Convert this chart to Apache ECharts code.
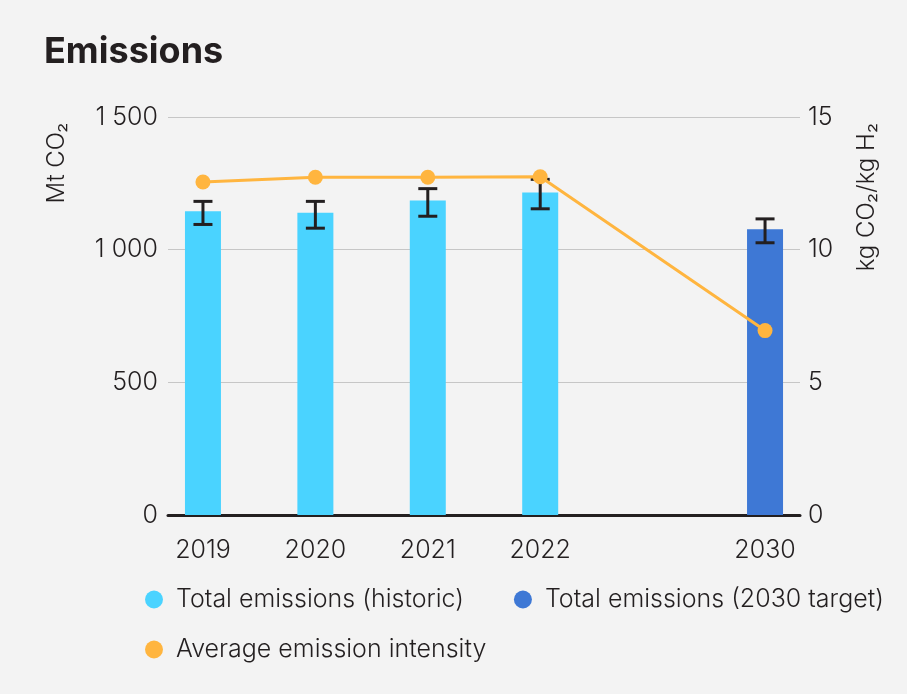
<!DOCTYPE html>
<html>
<head>
<meta charset="utf-8">
<script src="https://cdn.jsdelivr.net/npm/echarts@6/dist/echarts.min.js"></script>
<style>
html,body{margin:0;padding:0;background:#f3f3f3;}
#chart{width:907px;height:694px;}
</style>
</head>
<body>
<div id="chart"></div>
<script>
const categories = ['2019', '2020', '2021', '2022', '', '2030'];
const historic = [1145, 1139, 1185, 1215, null, null];
const target = [null, null, null, null, null, 1077];
const errLow = [1095, 1081, 1126, 1154, null, 1026];
const errHigh = [1182, 1182, 1230, 1265, null, 1116];
const intensity = [12.55, 12.73, 12.73, 12.75, null, 6.95];
const leftTicks = [0, 500, 1000, 1500];
const rightTicks = [0, 5, 10, 15];

const FONT = 'Inter, "Noto Sans", sans-serif';
const TXT = '#231f20';
const FS = 25;
const FW = 300;

function pairs(arr) {
  const out = [];
  arr.forEach((v, i) => { if (v !== null) out.push([i, v]); });
  return out;
}
const errData = [];
categories.forEach((c, i) => { if (errLow[i] !== null) errData.push([i, errLow[i], errHigh[i]]); });
const labelIdx = [];
categories.forEach((c, i) => { if (c !== '') labelIdx.push(i); });

const chart = echarts.init(document.getElementById('chart'));
chart.setOption({
  backgroundColor: '#f3f3f3',
  animation: false,
  title: {
    text: 'Emissions', left: 39, top: 29,
    textStyle: { fontFamily: FONT, fontSize: 36, fontWeight: 'bold', color: TXT }
  },
  legend: [{
    data: ['Total emissions (historic)', 'Total emissions (2030 target)'],
    left: 140, top: 582, itemGap: 50, icon: 'circle', itemWidth: 30, itemHeight: 18,
    textStyle: { fontFamily: FONT, fontSize: FS, fontWeight: FW, color: TXT, padding: [0, 0, 0, 2] }
  }, {
    data: ['Average emission intensity'],
    left: 140, top: 632, icon: 'circle', itemWidth: 30, itemHeight: 18,
    textStyle: { fontFamily: FONT, fontSize: FS, fontWeight: FW, color: TXT, padding: [0, 0, 0, 2] }
  }],
  grid: { left: 168, right: 107, top: 117, bottom: 179, containLabel: false },
  xAxis: {
    type: 'value', min: -0.311, max: categories.length - 1 + 0.311,
    axisLine: { show: true, onZero: false, lineStyle: { color: TXT, width: 3 } },
    axisTick: { show: false },
    splitLine: { show: false },
    axisLabel: {
      customValues: labelIdx, margin: 23,
      fontFamily: FONT, fontSize: FS, fontWeight: FW, color: TXT,
      formatter: v => categories[Math.round(v)]
    }
  },
  yAxis: [{
    type: 'value', min: 0, max: 1500, interval: 500, position: 'left',
    axisLine: { show: false }, axisTick: { show: false },
    splitLine: { lineStyle: { color: '#c6c6c6', width: 1 } },
    axisLabel: {
      margin: 10, fontFamily: FONT, fontSize: FS, fontWeight: FW, color: TXT,
      formatter: v => String(v).replace(/\B(?=(\d{3})+(?!\d))/g, ' ')
    }
  }, {
    type: 'value', min: 0, max: 15, interval: 5, position: 'right',
    axisLine: { show: false }, axisTick: { show: false }, splitLine: { show: false },
    axisLabel: { margin: 8, fontFamily: FONT, fontSize: FS, fontWeight: FW, color: TXT }
  }],
  graphic: [{
    type: 'text', x: 57, y: 163, rotation: Math.PI / 2,
    style: { text: 'Mt CO\u2082', font: FW + ' 24px ' + FONT, fill: TXT, textAlign: 'center', textVerticalAlign: 'middle' }
  }, {
    type: 'text', x: 867, y: 197, rotation: Math.PI / 2,
    style: { text: 'kg CO\u2082/kg H\u2082', font: FW + ' 24px ' + FONT, fill: TXT, textAlign: 'center', textVerticalAlign: 'middle' }
  }],
  series: [{
    name: 'Total emissions (historic)', type: 'bar', data: pairs(historic),
    barWidth: 36, barGap: '-100%', itemStyle: { color: '#4ad3ff' }, z: 2
  }, {
    name: 'Total emissions (2030 target)', type: 'bar', data: pairs(target),
    barWidth: 36, barGap: '-100%', itemStyle: { color: '#3e78d5' }, z: 2
  }, {
    name: 'errors', type: 'custom', data: errData, z: 3,
    encode: { x: 0, y: [1, 2] },
    renderItem: (params, api) => {
      const x = api.value(0);
      const lo = api.coord([x, api.value(1)]);
      const hi = api.coord([x, api.value(2)]);
      const hw = 9.5;
      const st = { stroke: TXT, lineWidth: 3 };
      return {
        type: 'group', children: [
          { type: 'line', shape: { x1: lo[0], y1: lo[1], x2: hi[0], y2: hi[1] }, style: st },
          { type: 'line', shape: { x1: lo[0] - hw, y1: lo[1], x2: lo[0] + hw, y2: lo[1] }, style: st },
          { type: 'line', shape: { x1: hi[0] - hw, y1: hi[1], x2: hi[0] + hw, y2: hi[1] }, style: st }
        ]
      };
    }
  }, {
    name: 'Average emission intensity', type: 'line', yAxisIndex: 1, data: pairs(intensity),
    symbol: 'circle', symbolSize: 15, z: 4,
    lineStyle: { color: '#ffb53f', width: 3 }, itemStyle: { color: '#ffb53f' }
  }]
});
</script>
</body>
</html>
